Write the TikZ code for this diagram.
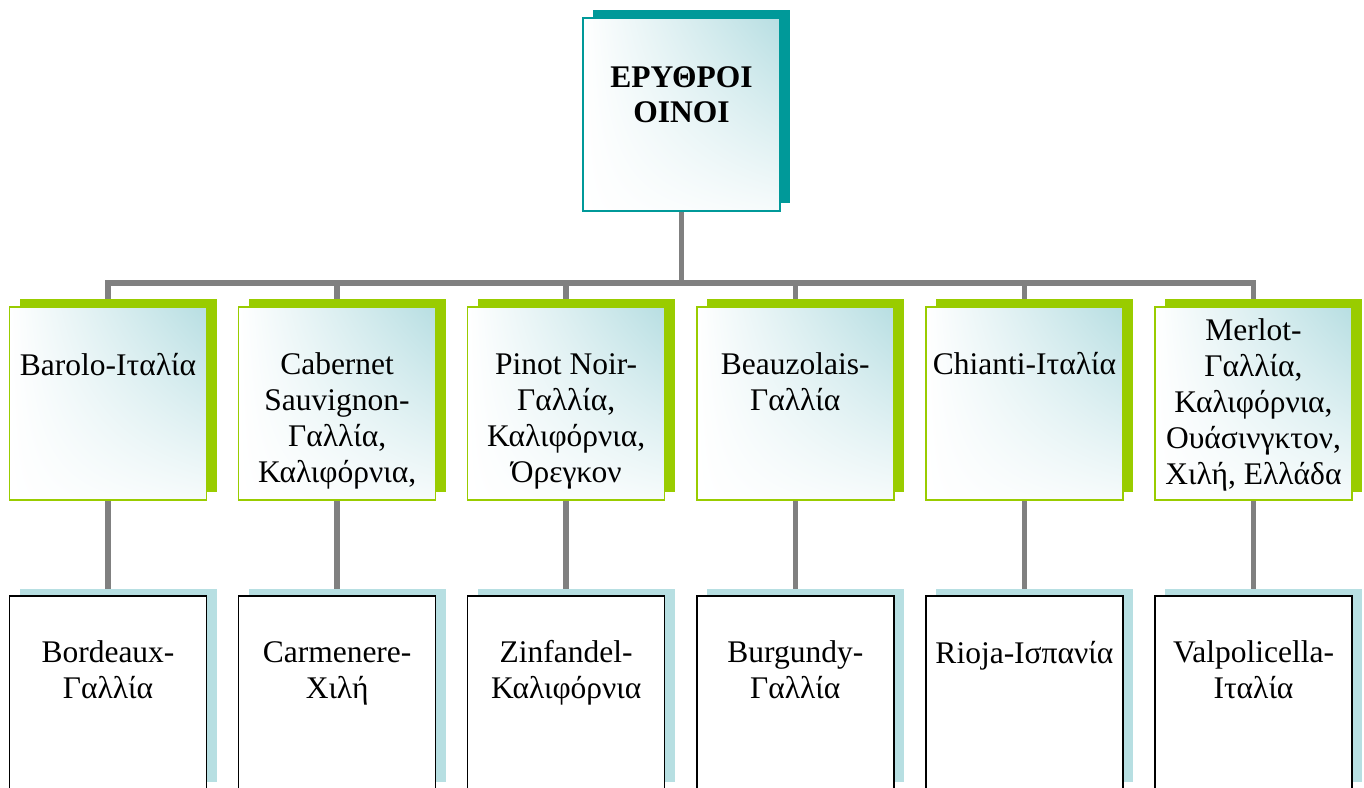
\documentclass[tikz,border=0pt]{standalone}
\usepackage{fontspec}
\setmainfont{Liberation Serif}
\usetikzlibrary{shadings}
\definecolor{tealA}{RGB}{0,153,153}
\definecolor{limeA}{RGB}{153,204,0}
\definecolor{paleA}{RGB}{183,223,226}
\definecolor{gradA}{RGB}{183,222,226}
\definecolor{connA}{RGB}{128,128,128}
\pgfdeclarelayer{bg}
\pgfsetlayers{bg,main}
\begin{document}
\begin{tikzpicture}[x=1pt,y=-1pt,
  box/.style={rectangle, minimum width=197pt, minimum height=193pt, inner sep=0pt, outer sep=0pt, line width=1.5pt},
  gradbox/.style={box, shade, upper right=gradA, upper left=white, lower left=white, lower right=gradA!12},
  topbox/.style={gradbox, draw=tealA},
  midbox/.style={gradbox, draw=limeA},
  botbox/.style={box, draw=black, fill=white},
  txt/.style={font=\fontsize{31.5}{36}\selectfont, align=center, inner sep=0pt, anchor=base},
  ttl/.style={txt, font=\fontsize{31.5}{35}\selectfont\bfseries},
  conn/.style={draw=connA, line width=5.5pt}
]
\useasboundingbox (0,0) rectangle (1364,787);

% boxes
\node[topbox] (top) at (681.5,114.5) {};
\foreach \i/\x in {1/108,2/337.1,3/566.2,4/795.3,5/1024.4,6/1253.5}{
  \node[midbox] (m\i) at (\x,403.5) {};
  \node[botbox] (b\i) at (\x,692.5) {};
}

% texts (anchor = baseline of the last line)
\node[ttl] (ttop) at ([yshift=-104pt]top.north) {ΕΡΥΘΡΟΙ\\ΟΙΝΟΙ};
\node[txt] (t1) at ([yshift=-68pt]m1.north) {Barolo-Ιταλία};
\node[txt] (t2) at ([yshift=-175pt]m2.north) {Cabernet\\Sauvignon-\\Γαλλία,\\Καλιφόρνια,};
\node[txt] (t3) at ([yshift=-175pt]m3.north) {Pinot Noir-\\Γαλλία,\\Καλιφόρνια,\\Όρεγκον};
\node[txt] (t4) at ([yshift=-103pt]m4.north) {Beauzolais-\\Γαλλία};
\node[txt] (t5) at ([yshift=-67pt]m5.north) {Chianti-Ιταλία};
\node[txt] (t6) at ([yshift=-177pt]m6.north) {Merlot-\\Γαλλία,\\Καλιφόρνια,\\Ουάσινγκτον,\\Χιλή, Ελλάδα};
\node[txt] (u1) at ([yshift=-102pt]b1.north) {Bordeaux-\\Γαλλία};
\node[txt] (u2) at ([yshift=-102pt]b2.north) {Carmenere-\\Χιλή};
\node[txt] (u3) at ([yshift=-102pt]b3.north) {Zinfandel-\\Καλιφόρνια};
\node[txt] (u4) at ([yshift=-102pt]b4.north) {Burgundy-\\Γαλλία};
\node[txt] (u5) at ([yshift=-67pt]b5.north) {Rioja-Ισπανία};
\node[txt] (u6) at ([yshift=-102pt]b6.north) {Valpolicella-\\Ιταλία};

\coordinate (bus) at (681.5,283);

\begin{pgfonlayer}{bg}
  % connectors
  \draw[conn] (top.south) -- (bus);
  \foreach \i in {1,...,6}{
    \draw[conn] (m\i.north) |- (bus);
    \draw[conn] (m\i.south) -- (b\i.north);
  }
  % shadows
  \fill[tealA] ([shift={(10,-8)}]top.south west) rectangle ([shift={(10,-8)}]top.north east);
  \foreach \i in {1,...,6}{
    \fill[limeA] ([shift={(10,-8)}]m\i.south west) rectangle ([shift={(10,-8)}]m\i.north east);
    \fill[paleA] ([shift={(10,-7)}]b\i.south west) rectangle ([shift={(10,-7)}]b\i.north east);
  }
\end{pgfonlayer}
\end{tikzpicture}
\end{document}
